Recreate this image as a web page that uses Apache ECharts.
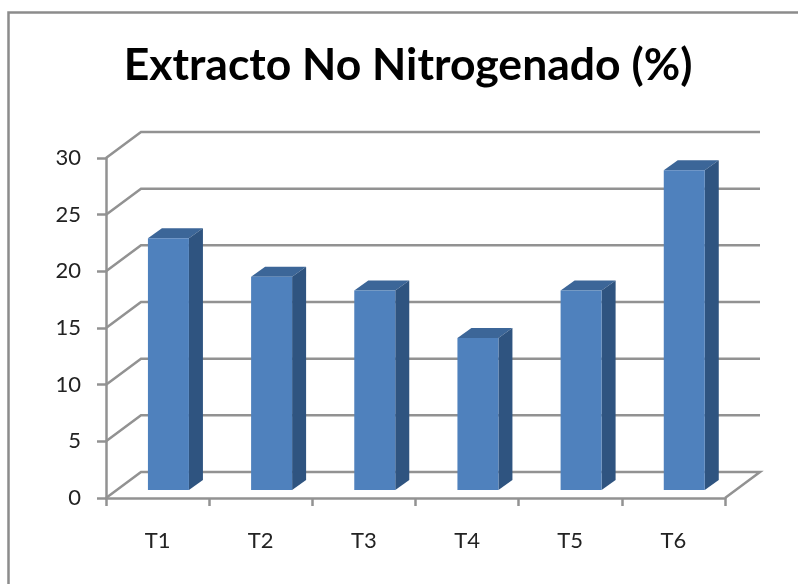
<!DOCTYPE html>
<html>
<head>
<meta charset="utf-8">
<title>Extracto No Nitrogenado (%)</title>
<style>
html,body{margin:0;padding:0;background:#fff;}
#chart{width:798px;height:584px;}
</style>
<script src="https://cdn.jsdelivr.net/npm/echarts@6/dist/echarts.min.js"></script>
</head>
<body>
<div id="chart"></div>
<script>
var categories = ["T1", "T2", "T3", "T4", "T5", "T6"];
var values = [22.2, 18.8, 17.6, 13.4, 17.6, 28.2];
var yTicks = [0, 5, 10, 15, 20, 25, 30];

var lineColor = "#929292";
var textFont = "Lato";
// profundidad del falso 3D, en pixeles
var wallDx = 35, wallDy = -26;
var barDx = 14, barDy = -10;
var barWidth = 41;

var chart = echarts.init(document.getElementById("chart"));

// paredes: lineas de la cuadricula con su diagonal
function renderWall(params, api) {
	var v = api.value(0);
	var band = api.size([1, 0])[0];
	var left = api.coord([0, v]);
	var x0 = left[0] - band / 2;
	var x1 = api.coord([5, v])[0] + band / 2;
	var y = left[1];
	var points = [[x0, y], [x0 + wallDx, y + wallDy], [x1 + wallDx, y + wallDy]];
	if (v === 0) {
		points.push([x1, y]);
	}
	return {
		type: "polyline",
		shape: {points: points},
		style: {stroke: lineColor, lineWidth: 2.5, fill: null}
	};
}

// barra: frente, tapa y lateral
function renderBar(params, api) {
	var idx = api.value(0);
	var top = api.coord([idx, api.value(1)]);
	var base = api.coord([idx, 0]);
	var x0 = top[0] - barWidth / 2 + wallDx * 0.31;
	var x1 = x0 + barWidth;
	var y0 = top[1] + wallDy * 0.31;
	var y1 = base[1] + wallDy * 0.31;
	return {
		type: "group",
		children: [
			{
				type: "polygon",
				shape: {points: [[x0, y0], [x0 + barDx, y0 + barDy], [x1 + barDx, y0 + barDy], [x1, y0]]},
				style: {fill: "#3c6698"}
			},
			{
				type: "polygon",
				shape: {points: [[x1, y0], [x1 + barDx, y0 + barDy], [x1 + barDx, y1 + barDy], [x1, y1]]},
				style: {fill: "#2f5480"}
			},
			{
				type: "rect",
				shape: {x: x0, y: y0, width: barWidth, height: y1 - y0},
				style: {fill: "#4f81bd"}
			}
		]
	};
}

var option = {
	animation: false,
	backgroundColor: "#fff",
	title: {
		text: "Extracto No Nitrogenado (%)",
		left: 403,
		top: 38,
		textAlign: "center",
		textStyle: {fontFamily: textFont, fontSize: 44.5, fontWeight: "bold", color: "#000"}
	},
	grid: {left: 106, right: 73, top: 158, bottom: 86},
	xAxis: {
		type: "category",
		data: categories,
		axisLine: {lineStyle: {color: lineColor, width: 2.5}},
		axisTick: {show: true, length: 8, lineStyle: {color: lineColor, width: 2.5}},
		axisLabel: {fontFamily: textFont, fontSize: 22, color: "#222", margin: 32}
	},
	yAxis: {
		type: "value",
		min: yTicks[0],
		max: yTicks[yTicks.length - 1],
		interval: 5,
		splitLine: {show: false},
		axisLine: {show: true, lineStyle: {color: lineColor, width: 2.5}},
		axisTick: {show: true, length: 9, lineStyle: {color: lineColor, width: 2.5}},
		axisLabel: {fontFamily: textFont, fontSize: 22, color: "#222", margin: 25, padding: [6, 0, 0, 0]}
	},
	graphic: [{
		type: "polyline",
		shape: {points: [[8.5, 584], [8.5, 12.5], [798, 12.5]]},
		style: {stroke: "#8c8c8c", lineWidth: 2.5, fill: null}
	}],
	series: [
		{
			type: "custom",
			coordinateSystem: "cartesian2d",
			clip: false,
			silent: true,
			z: 1,
			renderItem: renderWall,
			encode: {y: 0},
			data: yTicks.map(function (v) { return [v]; })
		},
		{
			type: "custom",
			coordinateSystem: "cartesian2d",
			clip: false,
			silent: true,
			z: 2,
			renderItem: renderBar,
			encode: {x: 0, y: 1},
			data: values.map(function (v, i) { return [i, v]; })
		}
	]
};
chart.setOption(option);
</script>
</body>
</html>
